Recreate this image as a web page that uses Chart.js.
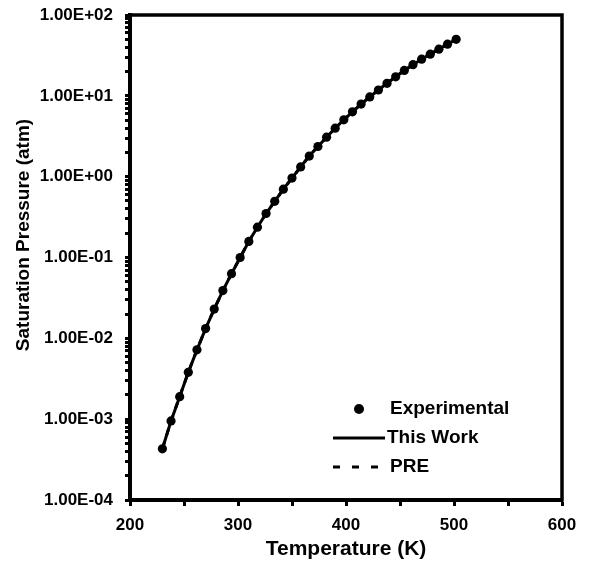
<!DOCTYPE html>
<html>
<head>
<meta charset="utf-8">
<script src="https://cdn.jsdelivr.net/npm/chart.js@4.4.1/dist/chart.umd.min.js"></script>
<style>
  html, body { margin: 0; padding: 0; background: #fff; }
  #wrap { width: 590px; height: 570px; }
</style>
</head>
<body>
<div id="wrap"><canvas id="chart"></canvas></div>
<script>
// Saturation pressure vs temperature
const temperatures = [230, 238, 246, 254, 262, 270, 278, 286, 294, 302, 310, 318, 326, 334, 342, 350, 358, 366,
  374, 382, 390, 398, 406, 414, 422, 430, 438, 446, 454, 462, 470, 478, 486, 494, 502];
const experimental = [4.3e-4, 9.5e-4, 1.9e-3, 3.8e-3, 7.2e-3, 0.0132, 0.023, 0.039, 0.063, 0.100, 0.158, 0.237,
  0.350, 0.495, 0.70, 0.96, 1.32, 1.80, 2.36, 3.08, 3.98, 5.05, 6.35, 7.9, 9.7, 11.8, 14.3, 17.2, 20.6, 24.3,
  28.4, 32.8, 37.8, 43.6, 50.0];
// both models lie on top of the experimental points at this scale
const thisWork = experimental.slice();
const preModel = experimental.slice();

const legendLabels = ['Experimental', 'This Work', 'PRE'];
const xTickLabels = [200, 300, 400, 500, 600];
const yTickValues = [1e-4, 1e-3, 1e-2, 1e-1, 1e0, 1e1, 1e2];
const yTickLabels = ['1.00E-04', '1.00E-03', '1.00E-02', '1.00E-01', '1.00E+00', '1.00E+01', '1.00E+02'];
const yTitle = 'Saturation Pressure (atm)';

const FONT = '"Liberation Sans", Arial, sans-serif';

const toPoints = (vals) => temperatures.map((t, i) => ({ x: t, y: vals[i] }));

// log axis: majors at each decade plus 2..9 minors
const yAllTicks = [];
yTickValues.forEach((v, i) => {
  if (i === yTickValues.length - 1) { yAllTicks.push(v); return; }
  for (let k = 1; k <= 9; k++) yAllTicks.push(v * k);
});

const yLabelFor = (value) => {
  const i = yTickValues.findIndex((v) => Math.abs(value - v) / v < 1e-6);
  return i >= 0 ? yTickLabels[i] : '';
};

const framePlugin = {
  id: 'frame',
  afterDraw(chart) {
    const { ctx, chartArea: a } = chart;
    ctx.save();
    ctx.strokeStyle = '#000';
    ctx.lineWidth = 3.5;
    ctx.strokeRect(a.left, a.top, a.right - a.left, a.bottom - a.top);
    // y axis title sits a bit above the plot centre in the original
    ctx.fillStyle = '#000';
    ctx.font = 'bold 19px ' + FONT;
    ctx.textAlign = 'center';
    ctx.textBaseline = 'middle';
    ctx.translate(24, 235);
    ctx.rotate(-Math.PI / 2);
    ctx.fillText(yTitle, 0, 0);
    ctx.restore();
  }
};

const legendPlugin = {
  id: 'insideLegend',
  afterDraw(chart) {
    const { ctx } = chart;
    ctx.save();
    ctx.fillStyle = '#000';
    ctx.strokeStyle = '#000';
    ctx.font = 'bold 19px ' + FONT;
    ctx.textBaseline = 'middle';
    // Experimental (dot)
    ctx.beginPath();
    ctx.arc(359, 409, 5, 0, Math.PI * 2);
    ctx.fill();
    ctx.fillText(legendLabels[0], 390, 409);
    // This Work (solid)
    ctx.lineWidth = 3;
    ctx.beginPath();
    ctx.moveTo(333, 438);
    ctx.lineTo(385, 438);
    ctx.stroke();
    ctx.fillText(legendLabels[1], 387, 438);
    // PRE (dashed)
    ctx.setLineDash([7, 12]);
    ctx.beginPath();
    ctx.moveTo(333, 467);
    ctx.lineTo(384, 467);
    ctx.stroke();
    ctx.setLineDash([]);
    ctx.fillText(legendLabels[2], 390, 467);
    ctx.restore();
  }
};

new Chart(document.getElementById('chart'), {
  type: 'line',
  data: {
    datasets: [
      {
        label: legendLabels[0],
        data: toPoints(experimental),
        showLine: false,
        pointRadius: 4.6,
        pointBackgroundColor: '#000',
        pointBorderColor: '#000',
        pointBorderWidth: 0
      },
      {
        label: legendLabels[1],
        data: toPoints(thisWork),
        borderColor: '#000',
        borderWidth: 3,
        pointRadius: 0,
        tension: 0
      },
      {
        label: legendLabels[2],
        data: toPoints(preModel),
        borderColor: '#000',
        borderWidth: 3,
        borderDash: [7, 7],
        pointRadius: 0,
        tension: 0
      }
    ]
  },
  options: {
    responsive: true,
    maintainAspectRatio: false,
    animation: false,
    layout: { padding: { top: 15, right: 28, left: 0, bottom: 0 } },
    plugins: { legend: { display: false }, tooltip: { enabled: false } },
    scales: {
      x: {
        type: 'linear',
        min: 200,
        max: 600,
        afterFit: (s) => { s.height = 70; },
        ticks: {
          stepSize: 50,
          autoSkip: false,
          maxRotation: 0,
          padding: 9,
          color: '#000',
          font: { family: FONT, size: 17, weight: 'bold' },
          callback: (v) => (xTickLabels.includes(v) ? String(v) : '')
        },
        grid: { drawOnChartArea: false, drawTicks: true, tickLength: 6, tickWidth: 3, tickColor: '#000' },
        border: { display: true, color: '#000', width: 4 },
        title: {
          display: true,
          text: 'Temperature (K)',
          color: '#000',
          font: { family: FONT, size: 21, weight: 'bold' },
          padding: { top: 0, bottom: 8 }
        }
      },
      y: {
        type: 'logarithmic',
        min: 1e-4,
        max: 1e2,
        afterFit: (s) => { s.width = 130; s.paddingTop = 0; s.paddingBottom = 0; },
        afterBuildTicks: (s) => { s.ticks = yAllTicks.map((v) => ({ value: v })); },
        ticks: {
          autoSkip: false,
          padding: 12,
          color: '#000',
          font: { family: FONT, size: 17, weight: 'bold' },
          callback: (v) => yLabelFor(v)
        },
        grid: { drawOnChartArea: false, drawTicks: true, tickLength: 5, tickWidth: 3, tickColor: '#000' },
        border: { display: true, color: '#000', width: 4 },
        title: { display: false }
      }
    }
  },
  plugins: [framePlugin, legendPlugin]
});
</script>
</body>
</html>
